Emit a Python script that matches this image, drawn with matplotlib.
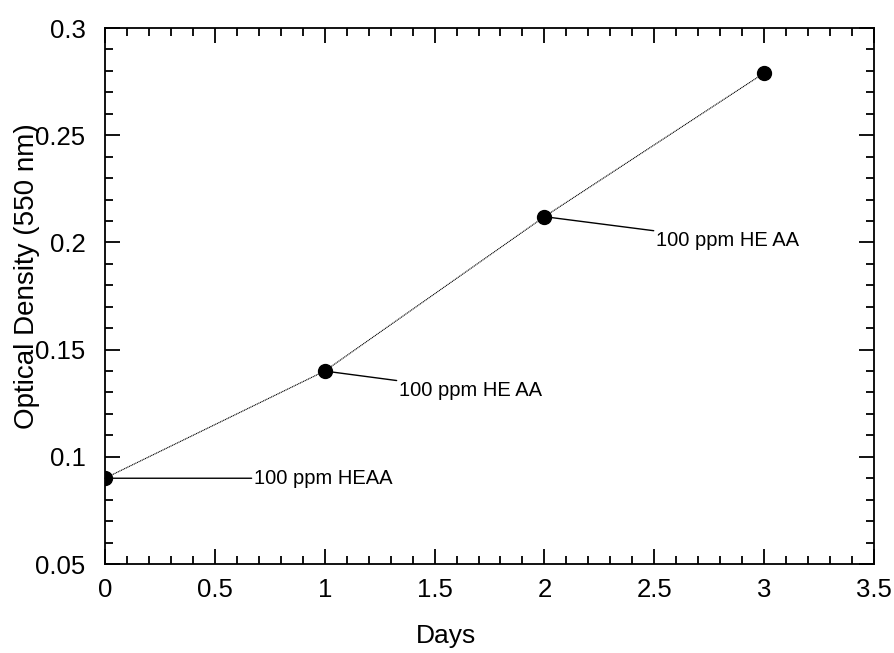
import matplotlib
matplotlib.use("Agg")
import matplotlib.pyplot as plt
from matplotlib.ticker import MultipleLocator

plt.rcParams['font.family'] = ['Liberation Sans', 'DejaVu Sans']

days = [0, 1, 2, 3]
od = [0.090, 0.140, 0.212, 0.279]
labels = ["100 ppm HEAA", "100 ppm HE AA", "100 ppm HE AA"]
label_pos = [(0.68, 0.090), (1.34, 0.131), (2.51, 0.201)]

fig = plt.figure(figsize=(8.94, 6.53), dpi=100)
ax = fig.add_axes([105 / 894, 1 - 564 / 653, 769 / 894, 536 / 653])

ax.plot(days, od, color='black', linewidth=0.8, linestyle=(0, (1, 0.6)),
        marker='o', markersize=10, markerfacecolor='black', markeredgecolor='black')

for i, lab in enumerate(labels):
    ax.annotate(lab, xy=(days[i], od[i]), xytext=label_pos[i],
                fontsize=14.5, va='center', ha='left',
                arrowprops=dict(arrowstyle='-', color='black', linewidth=1,
                                shrinkA=0, shrinkB=0))

ax.set_xlim(0, 3.5)
ax.set_ylim(0.05, 0.3)
ax.xaxis.set_major_locator(MultipleLocator(0.5))
ax.xaxis.set_minor_locator(MultipleLocator(0.1))
ax.yaxis.set_major_locator(MultipleLocator(0.05))
ax.yaxis.set_minor_locator(MultipleLocator(0.01))
ax.xaxis.set_major_formatter(plt.FuncFormatter(lambda v, p: f"{v:g}"))
ax.yaxis.set_major_formatter(plt.FuncFormatter(lambda v, p: f"{v:g}"))

ax.tick_params(which='both', direction='in', top=True, right=True,
               labelsize=18.5, width=1.3, color='black')
ax.tick_params(which='major', length=11)
ax.tick_params(axis='x', which='major', pad=10)
ax.tick_params(axis='y', which='major', pad=14)
ax.tick_params(which='minor', length=6)
for s in ax.spines.values():
    s.set_linewidth(1.3)

ax.set_xlabel("Days", fontsize=19)
ax.xaxis.set_label_coords(0.443, -0.112)
ax.set_ylabel("Optical Density (550 nm)", fontsize=20)
ax.yaxis.set_label_coords(-0.085, 0.537)

fig.savefig("out.png", dpi=100)
